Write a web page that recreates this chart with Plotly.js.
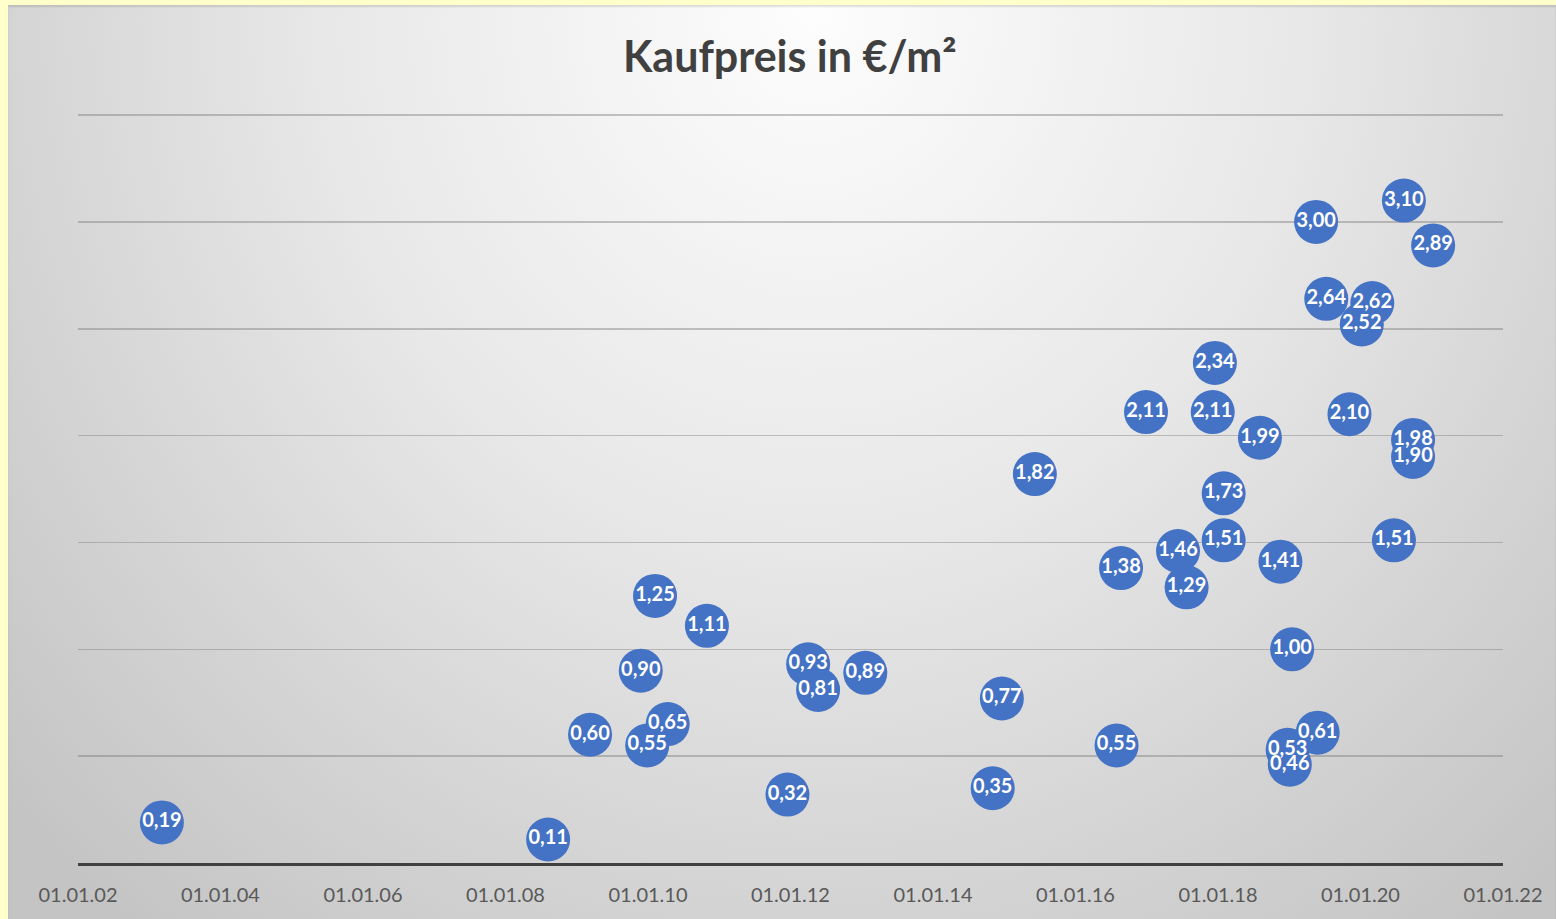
<!DOCTYPE html>
<html>
<head>
<meta charset="utf-8">
<script src="https://cdn.plot.ly/plotly-3.0.1.min.js"></script>
<style>
  html, body { margin: 0; padding: 0; background: #FFFFCC; width: 1556px; height: 919px; overflow: hidden; }
  #chart {
    position: absolute; left: 8px; top: 5px; width: 1548px; height: 914px;
    background: radial-gradient(ellipse 70% 130% at 52% 0%, #fdfdfd 0%, #e8e8e8 45%, #d4d4d4 75%, #c4c4c4 100%);
    box-shadow: inset 0 2px 2px rgba(0,0,0,0.12);
  }
</style>
</head>
<body>
<div id="chart"></div>
<script>
const dates = [
  "2003-03-07","2008-08-07","2009-03-10","2009-12-28","2009-11-25","2010-02-06","2010-04-12","2010-10-30",
  "2011-12-17","2012-04-01","2012-05-22","2013-01-19","2014-11-03","2014-12-20","2015-06-07","2016-07-30",
  "2016-08-22","2016-12-28","2017-06-10","2017-07-24","2017-12-05","2017-12-16","2018-01-30","2018-01-30",
  "2018-08-04","2018-11-17","2019-01-16","2018-12-24","2019-01-04","2019-05-27","2019-05-19","2019-07-10",
  "2020-03-02","2020-01-08","2019-11-06","2020-06-21","2020-08-11","2020-09-27","2020-09-27","2021-01-08"
];
const prices = [
  0.19, 0.11, 0.60, 0.55, 0.90, 1.25, 0.65, 1.11,
  0.32, 0.93, 0.81, 0.89, 0.35, 0.77, 1.82, 0.55,
  1.38, 2.11, 1.46, 1.29, 2.11, 2.34, 1.73, 1.51,
  1.99, 1.41, 1.00, 0.53, 0.46, 0.61, 3.00, 2.64,
  2.62, 2.52, 2.10, 1.51, 3.10, 1.98, 1.90, 2.89
];
const tickDates = ["2002-01-01","2004-01-01","2006-01-01","2008-01-01","2010-01-01","2012-01-01","2014-01-01","2016-01-01","2018-01-01","2020-01-01","2022-01-01"];
const tickLabels = ["01.01.02","01.01.04","01.01.06","01.01.08","01.01.10","01.01.12","01.01.14","01.01.16","01.01.18","01.01.20","01.01.22"];
const chartTitle = "Kaufpreis in €/m²";

const labels = prices.map(v => v.toFixed(2).replace('.', ','));
const FONT = "Lato, 'Open Sans', sans-serif";

const traces = [
  {
    type: 'scatter', mode: 'markers', x: dates, y: prices,
    marker: { size: 44, color: '#4472C4', line: { width: 0 } },
    hoverinfo: 'skip', cliponaxis: false
  },
  {
    type: 'scatter', mode: 'text', x: dates, y: prices, text: labels,
    textposition: 'middle center',
    textfont: { family: FONT, size: 20, color: '#ffffff', weight: 'bold' },
    hoverinfo: 'skip', cliponaxis: false
  }
];

const layout = {
  width: 1548, height: 914,
  paper_bgcolor: 'rgba(0,0,0,0)', plot_bgcolor: 'rgba(0,0,0,0)',
  showlegend: false,
  margin: { l: 70, r: 53, t: 109, b: 56, pad: 0 },
  title: {
    text: chartTitle, x: 0.505, xanchor: 'center', y: 1 - 52/914, yref: 'container', yanchor: 'middle',
    font: { family: FONT, size: 43, color: '#404040', weight: 'bold' }
  },
  xaxis: {
    type: 'date', range: ["2002-01-01", "2022-01-01"],
    tickmode: 'array', tickvals: tickDates, ticktext: tickLabels,
    showgrid: false, zeroline: false,
    showline: true, linecolor: '#404040', linewidth: 3,
    ticks: '', ticklabelstandoff: 12,
    tickfont: { family: FONT, size: 20, color: '#595959' }
  },
  yaxis: {
    range: [0, 3.505], tickmode: 'array', tickvals: [0, 0.5, 1, 1.5, 2, 2.5, 3, 3.5],
    showticklabels: false, ticks: '',
    showgrid: true, gridcolor: 'rgba(120,120,120,0.42)', gridwidth: 1.5,
    zeroline: false, showline: false
  }
};

Plotly.newPlot('chart', traces, layout, { staticPlot: true, displayModeBar: false });
</script>
</body>
</html>
